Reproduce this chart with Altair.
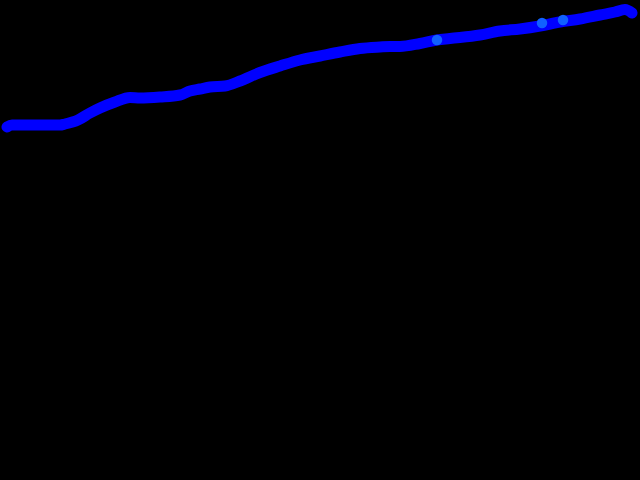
import altair as alt
import pandas as pd

# series (pixel-like units, no axes visible)
xs = [7, 12, 30, 45, 60, 65, 78, 90, 100, 115, 130, 140, 160, 180, 190, 200, 210, 225,
      240, 260, 280, 300, 320, 340, 360, 380, 390, 400, 420, 437, 450, 480, 500, 520,
      540, 560, 580, 600, 615, 625, 632]
ys = [127, 125, 125, 125, 125, 124, 120, 113, 108, 102, 97.5, 98, 97, 95, 91, 89, 87, 86,
      81, 72.5, 66, 60, 56, 52, 48.5, 47, 46.5, 46.5, 43.5, 40, 38.5, 35, 31, 29,
      26, 22, 19, 15, 12, 9.5, 13]

hx = [437, 542, 563]
hy = [40, 23, 20]

line_df = pd.DataFrame({"x": xs, "y": ys})
pt_df = pd.DataFrame({"x": hx, "y": hy})

xsc = alt.Scale(domain=[0, 640], range=[0, 640], nice=False, zero=False)
ysc = alt.Scale(domain=[0, 480], range=[0, 480], nice=False, zero=False)

line = alt.Chart(line_df).mark_line(
    color="#0000ff", strokeWidth=11, strokeCap="round", strokeJoin="round", interpolate="monotone"
).encode(
    x=alt.X("x:Q", scale=xsc, axis=None),
    y=alt.Y("y:Q", scale=ysc, axis=None),
)

pts = alt.Chart(pt_df).mark_circle(color="#1060ff", opacity=1, size=110).encode(
    x=alt.X("x:Q", scale=xsc, axis=None),
    y=alt.Y("y:Q", scale=ysc, axis=None),
)

chart = (line + pts).properties(
    width=640, height=480, background="black", padding=0, autosize="none"
).configure_view(stroke=None, fill="black")

chart.save("out.html", embed_options={"renderer": "svg", "actions": False})
